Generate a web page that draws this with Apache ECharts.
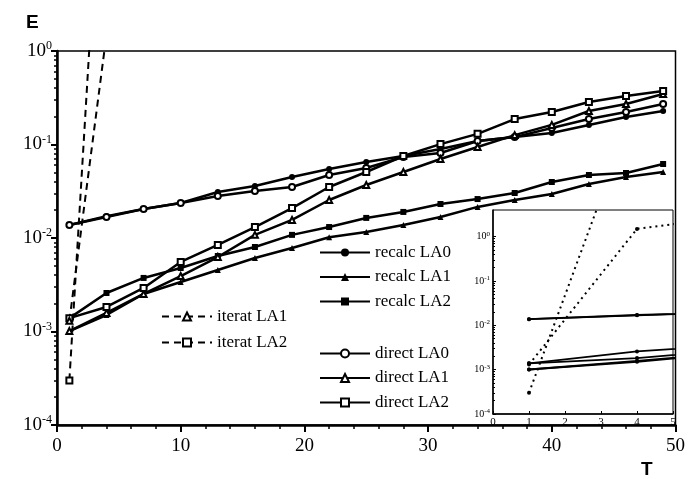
<!DOCTYPE html>
<html>
<head>
<meta charset="utf-8">
<script src="https://cdn.jsdelivr.net/npm/echarts@6/dist/echarts.min.js"></script>
<style>
  html, body { margin: 0; padding: 0; background: #fff; }
  #chart { width: 688px; height: 479px; }
</style>
</head>
<body>
<div id="chart"></div>
<script>
// time steps of the solid curves
var T = [1, 4, 7, 10, 13, 16, 19, 22, 25, 28, 31, 34, 37, 40, 43, 46, 49];

var recalcLA0 = [0.0138, 0.0171, 0.0204, 0.0237, 0.0310, 0.0360, 0.0449, 0.0547, 0.0650, 0.0753, 0.0895, 0.109, 0.120, 0.133, 0.162, 0.197, 0.228];
var recalcLA1 = [0.00101, 0.00150, 0.00252, 0.00338, 0.00455, 0.00611, 0.00782, 0.0102, 0.0116, 0.0138, 0.0168, 0.0215, 0.0255, 0.0296, 0.0378, 0.0449, 0.0508];
var recalcLA2 = [0.00139, 0.00258, 0.00374, 0.00478, 0.00642, 0.00801, 0.0108, 0.0131, 0.0164, 0.0190, 0.0231, 0.0261, 0.0303, 0.0397, 0.0472, 0.0496, 0.0619];
var directLA0 = [0.0138, 0.0168, 0.0204, 0.0237, 0.0281, 0.0318, 0.0351, 0.0472, 0.0561, 0.0735, 0.0811, 0.109, 0.120, 0.150, 0.187, 0.223, 0.271];
var directLA1 = [0.00101, 0.00158, 0.00252, 0.00392, 0.00626, 0.0108, 0.0156, 0.0255, 0.0369, 0.0508, 0.0700, 0.0940, 0.126, 0.162, 0.228, 0.271, 0.347];
var directLA2 = [0.00139, 0.00183, 0.00292, 0.00554, 0.00842, 0.0131, 0.0209, 0.0351, 0.0508, 0.0753, 0.101, 0.130, 0.187, 0.223, 0.285, 0.330, 0.374];

// iterative runs blow up after a few steps
var iteratT = [1, 4, 7];
var iteratLA1 = [0.0013, 1.5, 3.1];
var iteratLA2 = [0.0003, 1200];

var majorTicks = [1e-4, 1e-3, 1e-2, 1e-1, 1];
var minorTicks = [];
for (var k = -4; k < 0; k++) {
  for (var m = 2; m < 10; m++) minorTicks.push(m * Math.pow(10, k));
}

var serif = 'Liberation Serif';

function pairs(xs, ys) {
  return ys.map(function (v, i) { return [xs[i], v]; });
}

function expLabel(v) {
  var e = Math.round(Math.log10(v));
  return '{b|10}{s|' + (e === 0 ? '0' : '-' + (-e)) + '}';
}

var solid = [
  { name: 'recalc LA0', data: recalcLA0, symbol: 'circle' },
  { name: 'recalc LA1', data: recalcLA1, symbol: 'triangle' },
  { name: 'recalc LA2', data: recalcLA2, symbol: 'rect' },
  { name: 'direct LA0', data: directLA0, symbol: 'emptyCircle' },
  { name: 'direct LA1', data: directLA1, symbol: 'emptyTriangle' },
  { name: 'direct LA2', data: directLA2, symbol: 'emptyRect' }
];
var dashed = [
  { name: 'iterat LA1', x: iteratT, data: iteratLA1, symbol: 'emptyTriangle' },
  { name: 'iterat LA2', x: iteratT, data: iteratLA2, symbol: 'emptyRect' }
];

var series = [];
solid.forEach(function (s) {
  series.push({
    type: 'line', name: s.name, xAxisIndex: 0, yAxisIndex: 0,
    data: pairs(T, s.data), symbol: s.symbol, symbolSize: 6,
    lineStyle: { color: '#000', width: 2.5 }, itemStyle: { color: '#000', borderWidth: 1.5 },
    z: 3
  });
});
dashed.forEach(function (s) {
  series.push({
    type: 'line', name: s.name, xAxisIndex: 0, yAxisIndex: 0,
    data: pairs(s.x, s.data), symbol: s.symbol, symbolSize: 6,
    lineStyle: { color: '#000', width: 2, type: [7, 5] }, itemStyle: { color: '#000', borderWidth: 1.5 },
    z: 3
  });
});
// inset: same runs, first five steps
solid.concat(dashed).forEach(function (s) {
  var isDash = s.name.indexOf('iterat') === 0;
  series.push({
    type: 'line', name: s.name, xAxisIndex: 1, yAxisIndex: 2,
    data: pairs(s.x || T, s.data), symbol: 'circle', symbolSize: 4,
    lineStyle: { color: '#000', width: isDash ? 2 : 1.8, type: isDash ? [2, 4] : 'solid' },
    itemStyle: { color: '#000' }, z: 5
  });
});

var legendText = { fontFamily: serif, fontSize: 17, color: '#000' };
function legend(names, left, top, gap) {
  return {
    data: names, left: left, top: top, orient: 'vertical',
    itemWidth: 50, itemHeight: 10, itemGap: gap,
    textStyle: legendText, selectedMode: false, padding: 0
  };
}

var chart = echarts.init(document.getElementById('chart'));
chart.setOption({
  animation: false,
  backgroundColor: '#fff',
  grid: [
    { left: 57, top: 51, right: 9, bottom: 54, show: true, borderColor: '#000', borderWidth: 1.5 },
    { left: 493, top: 210, right: 15, bottom: 65, show: true, borderColor: '#000', borderWidth: 1, backgroundColor: '#fff', z: 4 }
  ],
  xAxis: [
    {
      type: 'value', gridIndex: 0, min: 0, max: 50, interval: 10,
      axisLine: { lineStyle: { color: '#000', width: 2.5 } },
      axisTick: { length: 7, lineStyle: { color: '#000', width: 2 } },
      minorTick: { show: true, splitNumber: 5, length: 4, lineStyle: { color: '#000', width: 1.5 } },
      axisLabel: { fontFamily: serif, fontSize: 19, color: '#000', margin: 12 },
      splitLine: { show: false }
    },
    {
      type: 'value', gridIndex: 1, min: 0, max: 5, interval: 1,
      axisLine: { lineStyle: { color: '#000', width: 1.5 } },
      axisTick: { inside: true, length: 3, lineStyle: { color: '#000' } },
      axisLabel: { fontFamily: serif, fontSize: 11, color: '#000', margin: 3 },
      splitLine: { show: false }, z: 6
    }
  ],
  yAxis: [
    {
      type: 'log', gridIndex: 0, min: 1e-4, max: 1,
      axisLine: { lineStyle: { color: '#000', width: 2.5 } },
      axisTick: { customValues: majorTicks, length: 6, lineStyle: { color: '#000', width: 2 } },
      axisLabel: {
        customValues: majorTicks, formatter: expLabel, margin: 5,
        rich: {
          b: { fontFamily: serif, fontSize: 19, color: '#000' },
          s: { fontFamily: serif, fontSize: 12, color: '#000', padding: [0, 0, 10, 0] }
        }
      },
      splitLine: { show: false }
    },
    {
      type: 'log', gridIndex: 0, min: 1e-4, max: 1, position: 'left',
      axisLine: { show: false },
      axisTick: { customValues: minorTicks, length: 3, lineStyle: { color: '#000', width: 1.5 } },
      axisLabel: { show: false }, splitLine: { show: false }
    },
    {
      type: 'log', gridIndex: 1, min: 1e-4, max: 4,
      axisLine: { lineStyle: { color: '#000', width: 1.5 } },
      axisTick: { customValues: majorTicks, inside: true, length: 3, lineStyle: { color: '#000' } },
      axisLabel: {
        customValues: majorTicks, formatter: expLabel, margin: 3,
        rich: {
          b: { fontFamily: serif, fontSize: 10, color: '#000' },
          s: { fontFamily: serif, fontSize: 7, color: '#000', padding: [0, 0, 6, 0] }
        }
      },
      splitLine: { show: false }, z: 6
    },
    {
      type: 'log', gridIndex: 1, min: 1e-4, max: 4, position: 'left',
      axisLine: { show: false },
      axisTick: { customValues: minorTicks, inside: true, length: 2, lineStyle: { color: '#000' } },
      axisLabel: { show: false }, splitLine: { show: false }, z: 6
    }
  ],
  legend: [
    legend(['iterat LA1', 'iterat LA2'], 161, 308, 9),
    legend(['recalc LA0', 'recalc LA1', 'recalc LA2'], 319, 244, 7.5),
    legend(['direct LA0', 'direct LA1', 'direct LA2'], 319, 345, 7.5)
  ],
  graphic: [
    { type: 'text', left: 26, top: 13, style: { text: 'E', font: 'bold 19px "Liberation Sans"', fill: '#000' } },
    { type: 'text', left: 641, top: 460, style: { text: 'T', font: 'bold 19px "Liberation Sans"', fill: '#000' } }
  ],
  series: series
});
</script>
</body>
</html>
